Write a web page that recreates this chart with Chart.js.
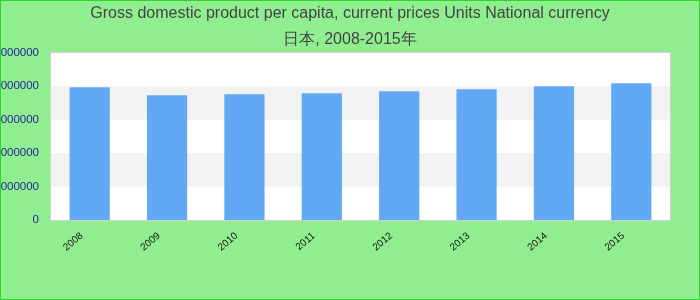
<!DOCTYPE html>
<html>
<head>
<meta charset="utf-8">
<script src="https://cdn.jsdelivr.net/npm/chart.js@4/dist/chart.umd.min.js"></script>
<style>
  html, body { margin: 0; padding: 0; background: #90EE90; }
  #wrap { position: relative; width: 700px; height: 300px; }
</style>
</head>
<body>
<div id="wrap"><canvas id="c" width="700" height="300"></canvas></div>
<script>
const titleLines = ["Gross domestic product per capita, current prices Units National currency", "日本, 2008-2015年"];
const categories = ["2008", "2009", "2010", "2011", "2012", "2013", "2014", "2015"];
const gdpValues = [3970000, 3730000, 3760000, 3790000, 3850000, 3910000, 4000000, 4090000];
const yTickValues = [0, 1000000, 2000000, 3000000, 4000000, 5000000];

const bgPlugin = {
  id: 'bgPlugin',
  beforeDraw(chart) {
    const ctx = chart.ctx;
    ctx.save();
    ctx.fillStyle = '#90EE90';
    ctx.fillRect(0, 0, chart.width, chart.height);
    const a = chart.chartArea;
    ctx.fillStyle = '#ffffff';
    ctx.fillRect(a.left, a.top, a.right - a.left, a.bottom - a.top);
    const y = chart.scales.y;
    for (let i = 0; i < yTickValues.length - 1; i++) {
      if (i % 2 === 1) {
        const p1 = y.getPixelForValue(yTickValues[i]);
        const p2 = y.getPixelForValue(yTickValues[i + 1]);
        ctx.fillStyle = '#f2f2f2';
        ctx.fillRect(a.left, p2, a.right - a.left, p1 - p2);
      }
    }
    ctx.restore();
  },
  afterDraw(chart) {
    const ctx = chart.ctx;
    const a = chart.chartArea;
    ctx.save();
    ctx.strokeStyle = '#d0d0d0';
    ctx.lineWidth = 1;
    ctx.strokeRect(Math.round(a.left) - 0.5, Math.round(a.top) - 0.5, Math.round(a.right - a.left) + 1, Math.round(a.bottom - a.top) + 1);
    ctx.strokeStyle = '#22dd22';
    ctx.strokeRect(0.5, 0.5, chart.width - 1, chart.height - 1);
    ctx.restore();
  }
};

new Chart(document.getElementById('c'), {
  type: 'bar',
  data: {
    labels: categories,
    datasets: [{
      data: gdpValues,
      backgroundColor: '#62a9f5',
      borderWidth: 0,
      categoryPercentage: 1.0,
      barPercentage: 0.52,
      yAxisID: 'y'
    }]
  },
  options: {
    responsive: false,
    animation: false,
    devicePixelRatio: 1,
    layout: { padding: { left: 0, right: 0, top: 0, bottom: 0 } },
    plugins: {
      legend: { display: false },
      tooltip: { enabled: false },
      title: {
        display: true,
        text: titleLines,
        color: '#444444',
        font: { family: "'Liberation Sans', Arial, sans-serif", size: 16, weight: 'normal', lineHeight: 1.65 },
        padding: { top: 0, bottom: 0 }
      }
    },
    scales: {
      x: {
        grid: { display: false, drawTicks: false },
        border: { display: false },
        ticks: {
          color: '#111111',
          font: { family: "'Liberation Sans', Arial, sans-serif", size: 10 },
          minRotation: 40,
          maxRotation: 40,
          padding: 10,
          labelOffset: -8
        },
        afterFit(scale) { scale.height = 80; }
      },
      y: {
        min: 0,
        max: 5000000,
        afterBuildTicks(scale) { scale.ticks = yTickValues.map(v => ({ value: v })); },
        grid: { display: false, drawTicks: false },
        border: { display: false },
        ticks: {
          color: '#1f1f9a',
          font: { family: "'Liberation Sans', Arial, sans-serif", size: 11.5 },
          padding: 12,
          callback: (v) => String(v)
        },
        afterFit(scale) { scale.width = 51; }
      },
      yRight: {
        position: 'right',
        min: 0,
        max: 1,
        grid: { display: false, drawTicks: false },
        border: { display: false },
        ticks: { display: false },
        afterFit(scale) { scale.width = 30; }
      }
    }
  },
  plugins: [bgPlugin]
});
</script>
</body>
</html>
